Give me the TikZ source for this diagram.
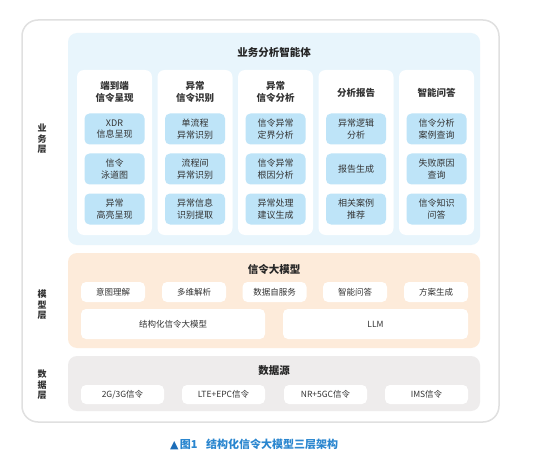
\documentclass[tikz,border=0pt]{standalone}
\usepackage{fontspec}
\setmainfont{Noto Sans CJK SC}
\newfontfamily\symfont{DejaVu Sans}
\definecolor{framegray}{HTML}{E0E0E0}
\definecolor{bizbg}{HTML}{E8F5FC}
\definecolor{subblue}{HTML}{BEE4F8}
\definecolor{modbg}{HTML}{FDEBDA}
\definecolor{databg}{HTML}{EEECEC}
\definecolor{txt}{HTML}{333333}
\definecolor{captblue}{HTML}{2A86CF}
\definecolor{tridark}{HTML}{1C6DB8}
\tikzset{
  panel/.style={rounded corners=9pt, draw=none},
  card/.style={fill=white, rounded corners=7pt, draw=none},
  subbox/.style={fill=subblue, rounded corners=5pt, draw=none, minimum width=60pt, minimum height=31pt, align=center, font=\fontsize{9}{11.5}\selectfont, text=txt, inner sep=0pt},
  headtxt/.style={align=center, font=\fontsize{9.5}{12}\selectfont\bfseries, text=txt},
  titletxt/.style={font=\fontsize{10.5}{12}\selectfont\bfseries, text=black!85},
  wbox/.style={fill=white, rounded corners=5pt, draw=none, font=\fontsize{8.5}{10}\selectfont, text=txt, inner sep=0pt},
  layertxt/.style={align=center, font=\fontsize{9}{10.5}\selectfont\bfseries, text=txt},
}
\begin{document}
\begin{tikzpicture}[x=1pt,y=-1pt]
\useasboundingbox (0,0) rectangle (541,476);
% outer frame
\draw[framegray, line width=1.5pt, rounded corners=16pt, fill=white] (22,20) rectangle (499,422);
% layer labels
\node[layertxt] (lbiz) at (42,139) {业\\务\\层};
\node[layertxt] (lmod) at (42,305) {模\\型\\层};
\node[layertxt] (ldat) at (42,385) {数\\据\\层};
% business panel
\fill[bizbg, panel] (68,33) rectangle (480,245);
\node[titletxt] (biztitle) at (274,52) {业务分析智能体};
% cards
\foreach \i/\xl in {1/77,2/157.5,3/238,4/318.5,5/399}{
  \fill[card] (\xl,70) rectangle ++(75,165);
}
\node[headtxt] (h1) at (114.5,92) {端到端\\信令呈现};
\node[headtxt] (h2) at (195,92) {异常\\信令识别};
\node[headtxt] (h3) at (275.5,92) {异常\\信令分析};
\node[headtxt] (h4) at (356,93) {分析报告};
\node[headtxt] (h5) at (436.5,93) {智能问答};
% sub boxes
\node[subbox] (s11) at (114.5,129) {XDR\\信息呈现};
\node[subbox] (s12) at (114.5,169) {信令\\泳道图};
\node[subbox] (s13) at (114.5,209) {异常\\高亮呈现};
\node[subbox] (s21) at (195,129) {单流程\\异常识别};
\node[subbox] (s22) at (195,169) {流程间\\异常识别};
\node[subbox] (s23) at (195,209) {异常信息\\识别提取};
\node[subbox] (s31) at (275.5,129) {信令异常\\定界分析};
\node[subbox] (s32) at (275.5,169) {信令异常\\根因分析};
\node[subbox] (s33) at (275.5,209) {异常处理\\建议生成};
\node[subbox] (s41) at (356,129) {异常逻辑\\分析};
\node[subbox] (s42) at (356,169) {报告生成};
\node[subbox] (s43) at (356,209) {相关案例\\推荐};
\node[subbox] (s51) at (436.5,129) {信令分析\\案例查询};
\node[subbox] (s52) at (436.5,169) {失败原因\\查询};
\node[subbox] (s53) at (436.5,209) {信令知识\\问答};
% model panel
\fill[modbg, panel] (68,253) rectangle (480,348);
\node[titletxt] (modtitle) at (274,269) {信令大模型};
\node[wbox, minimum width=64pt, minimum height=20pt] (m1) at (113,292) {意图理解};
\node[wbox, minimum width=64pt, minimum height=20pt] (m2) at (194,292) {多维解析};
\node[wbox, minimum width=64pt, minimum height=20pt] (m3) at (274.5,292) {数据自服务};
\node[wbox, minimum width=64pt, minimum height=20pt] (m4) at (355,292) {智能问答};
\node[wbox, minimum width=64pt, minimum height=20pt] (m5) at (436,292) {方案生成};
\node[wbox, minimum width=184pt, minimum height=30pt] (mb1) at (173,324) {结构化信令大模型};
\node[wbox, minimum width=185pt, minimum height=30pt] (mb2) at (375.5,324) {LLM};
% data panel
\fill[databg, panel] (68,356) rectangle (480,411);
\node[titletxt] (dattitle) at (274,371) {数据源};
\node[wbox, minimum width=83pt, minimum height=19pt] (d1) at (122.5,394.5) {2G/3G信令};
\node[wbox, minimum width=83pt, minimum height=19pt] (d2) at (223.5,394.5) {LTE+EPC信令};
\node[wbox, minimum width=83pt, minimum height=19pt] (d3) at (325.5,394.5) {NR+5GC信令};
\node[wbox, minimum width=83pt, minimum height=19pt] (d4) at (426.5,394.5) {IMS信令};
% caption
\node[font=\fontsize{11}{13}\selectfont\bfseries, text=captblue, anchor=west, inner sep=0pt] (cap) at (170,444) {{\symfont\color{tridark}\fontsize{11}{13}\selectfont ▲}\hspace{0.1em}图1\hspace{0.8em}结构化信令大模型三层架构};
\end{tikzpicture}
\end{document}
